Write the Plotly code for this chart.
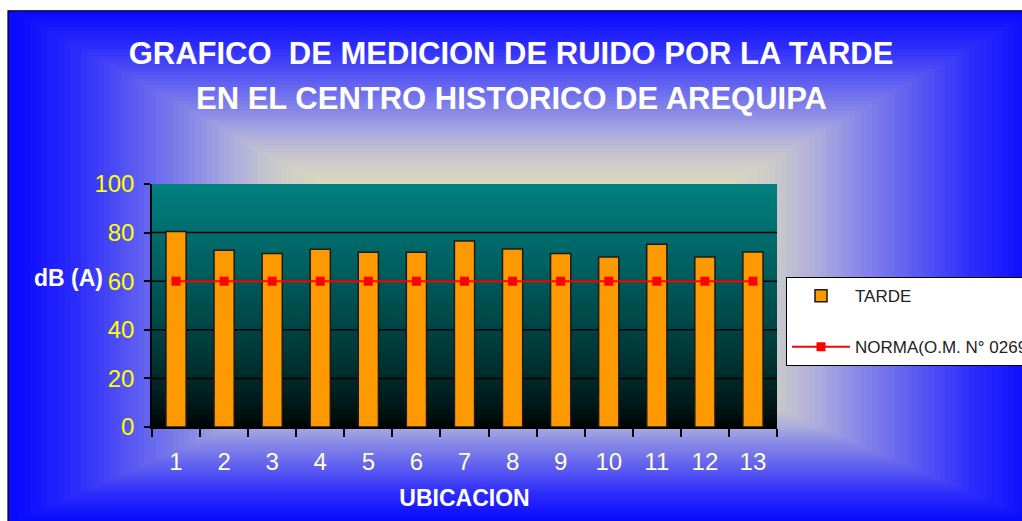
import plotly.graph_objects as go
import numpy as np

# ---------------- data ----------------
ubicacion = ["1", "2", "3", "4", "5", "6", "7", "8", "9", "10", "11", "12", "13"]
tarde = [80.5, 72.7, 71.4, 73.1, 71.9, 71.9, 76.5, 73.3, 71.4, 70.0, 75.2, 70.0, 72.0]
norma = [60, 60, 60, 60, 60, 60, 60, 60, 60, 60, 60, 60, 60]
y_ticks = [0, 20, 40, 60, 80, 100]
title_lines = ["GRAFICO  DE MEDICION DE RUIDO POR LA TARDE",
               "EN EL CENTRO HISTORICO DE AREQUIPA"]

# ---------------- geometry ----------------
OFF = 0  # body margin removed by post_script below
W, H = 1022 - OFF, 521 - OFF
# plot area in page pixels: x 152..777, y 184..426.7
L = 152 - OFF
T = 184 - OFF
R = W - (777 - OFF)
B = H - (426.7 - OFF)
PW, PH = W - L - R, H - T - B

def px(x):  # page x -> paper
    return (x - OFF - L) / PW

def py(y):  # page y -> paper
    return (H - B - (y - OFF)) / PH

FONT = "Liberation Sans Narrow, Arial Narrow, Liberation Sans, Arial, sans-serif"

shapes = []

# ---- page background: rectangular "from center" gradient ----
cx, cy = 525, 299
hw, hu, hd = 512, 288, 222
stops_t = [0.0, 0.38, 0.5, 0.58, 0.66, 0.76, 0.88, 1.0]
stops_c = [(226, 226, 190), (222, 222, 186), (200, 200, 205), (172, 172, 222),
           (135, 135, 232), (95, 95, 242), (45, 45, 252), (10, 10, 255)]

def col_at(t):
    t = min(max(t, 0), 1)
    r = np.interp(t, stops_t, [c[0] for c in stops_c])
    g = np.interp(t, stops_t, [c[1] for c in stops_c])
    b = np.interp(t, stops_t, [c[2] for c in stops_c])
    return f"rgb({int(r)},{int(g)},{int(b)})"

X0, X1, Y0, Y1 = 8, 1024, 11, 523
shapes.append(dict(type="rect", xref="paper", yref="paper", layer="below",
                   x0=px(X0), x1=px(X1), y0=py(Y0), y1=py(Y1),
                   fillcolor=col_at(1.0), line=dict(color="black", width=1.2)))
for t in np.linspace(1.0, 0.01, 90):
    x0 = max(cx - t * hw, X0 + 0.6); x1 = min(cx + t * hw, X1)
    y0 = max(cy - t * hu, Y0 + 0.6); y1 = min(cy + t * hd, Y1)
    shapes.append(dict(type="rect", xref="paper", yref="paper", layer="below",
                       x0=px(x0), x1=px(x1), y0=py(y0), y1=py(y1),
                       fillcolor=col_at(t), line=dict(width=0)))

# ---- plot area: teal to black vertical gradient ----
n = 60
edges = np.linspace(0, 100, n + 1)
for i in range(n):
    v = (edges[i] + edges[i + 1]) / 2 / 100
    c = 128 * v ** 0.7
    shapes.append(dict(type="rect", xref="x domain", yref="y", layer="below",
                       x0=0, x1=1, y0=edges[i], y1=edges[i + 1] + 0.3,
                       fillcolor=f"rgb(0,{int(c)},{int(c)})", line=dict(width=0)))

# grid lines (none at the top edge)
for v in y_ticks[1:-1]:
    shapes.append(dict(type="line", xref="x domain", yref="y", layer="below",
                       x0=0, x1=1, y0=v, y1=v, line=dict(color="black", width=1.5)))

fig = go.Figure()
fig.add_trace(go.Bar(
    x=ubicacion, y=tarde, name="TARDE", width=0.42,
    marker=dict(color="#ff9900", line=dict(color="#1a1a1a", width=1.5)),
    legendgroup="a",
))
fig.add_trace(go.Scatter(
    x=ubicacion, y=norma, name="NORMA(O.M. N° 0269)", mode="lines+markers",
    line=dict(color="#ff0000", width=2),
    marker=dict(symbol="square", size=9, color="#ff0000"),
    legendgroup="b",
))

title_font = dict(family=FONT, size=31, color="white", weight="bold")
fig.update_layout(
    width=W, height=H,
    margin=dict(l=L, r=R, t=T, b=B, autoexpand=False),
    paper_bgcolor="white",
    plot_bgcolor="rgba(0,0,0,0)",
    shapes=shapes,
    title=dict(
        text=title_lines[0],
        x=(511 - OFF) / W, xanchor="center", xref="container",
        y=1 - (53 - OFF) / H, yanchor="middle", yref="container",
        font=title_font,
    ),
    showlegend=True,
    legend=dict(
        x=px(786), xanchor="left", y=py(277), yanchor="top",
        bgcolor="white", bordercolor="black", borderwidth=1,
        font=dict(family=FONT, size=17, color="#222222"),
        tracegroupgap=26, itemwidth=58,
    ),
    bargap=0.58,
)

fig.add_annotation(
    text=title_lines[1], xref="paper", yref="paper",
    x=px(511), y=py(99), xanchor="center", yanchor="middle",
    showarrow=False, font=title_font,
)

fig.update_xaxes(
    type="category", range=[-0.5, 12.5],
    showline=True, linecolor="black", linewidth=1.5,
    ticks="outside", tickson="boundaries", ticklen=8, tickcolor="black", tickwidth=1.5,
    tickfont=dict(family=FONT, size=24, color="#ffffc8"),
    ticklabelstandoff=12,
    showgrid=False,
    title=dict(text="UBICACION", font=dict(family=FONT, size=23, color="white", weight="bold"),
               standoff=16),
)
fig.update_yaxes(
    range=[0, 100], tickvals=y_ticks,
    showline=True, linecolor="black", linewidth=1.5,
    ticks="outside", ticklen=6, tickcolor="black", tickwidth=1.5,
    tickfont=dict(family=FONT, size=24, color="#ffff00"),
    ticklabelstandoff=5,
    showgrid=False, zeroline=False,
)

fig.add_annotation(
    text="dB (A)", xref="paper", yref="y", x=px(105), y=61.5,
    xanchor="right", yanchor="middle", showarrow=False,
    font=dict(family=FONT, size=23, color="white", weight="bold"),
)

fig.write_html(
    "out.html",
    config={"displayModeBar": False},
    post_script="document.body.style.margin='0';"
                "document.documentElement.style.overflow='hidden';"
                "document.body.style.overflow='hidden';",
)
